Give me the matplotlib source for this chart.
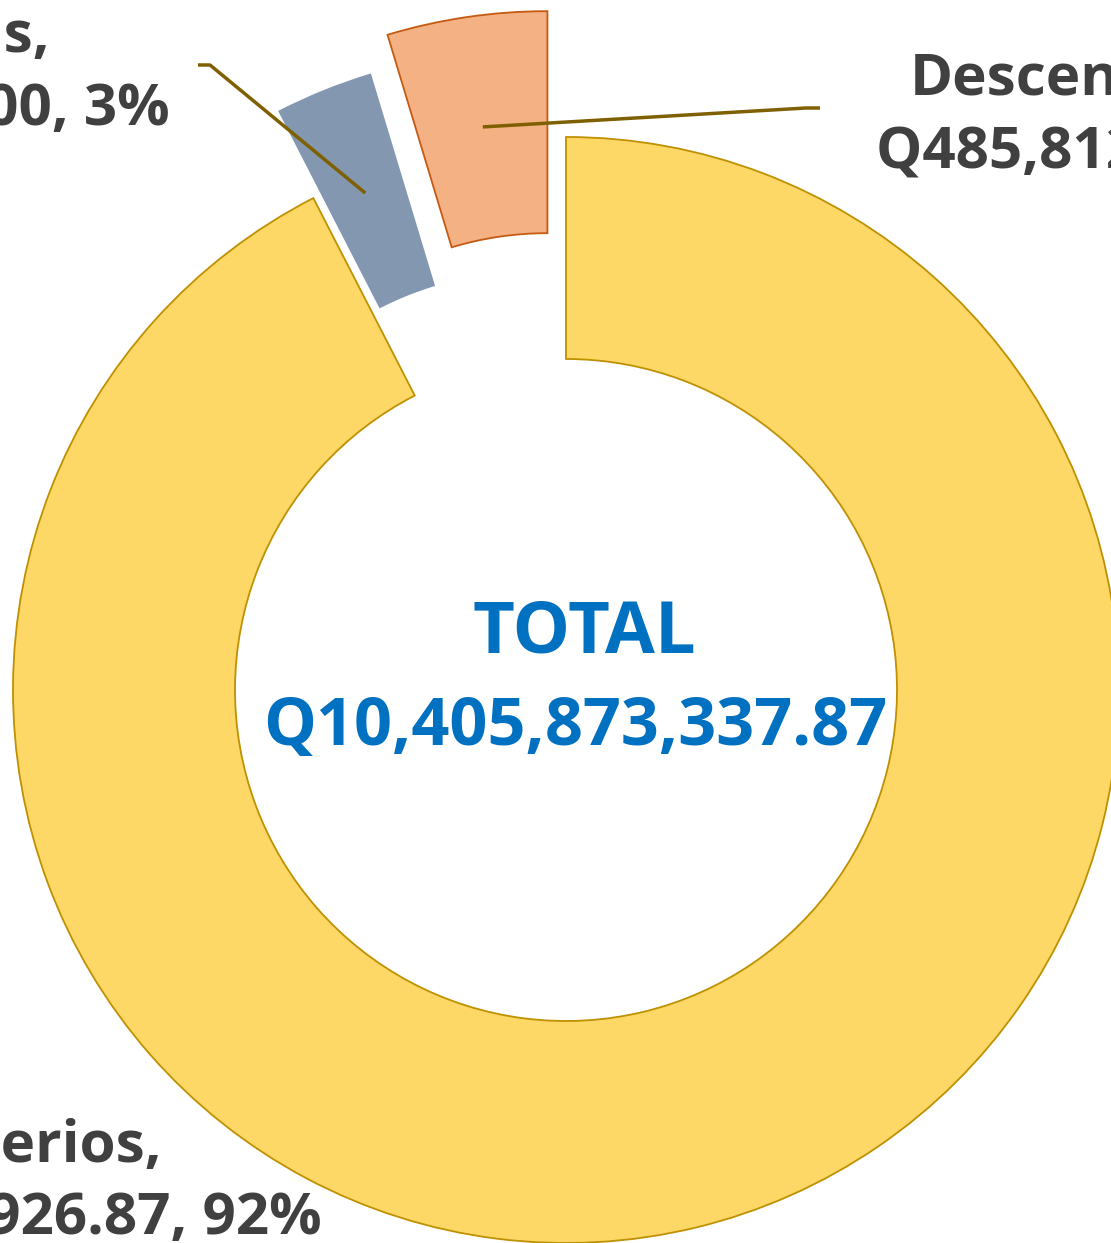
import numpy as np
import matplotlib
matplotlib.use("Agg")
import matplotlib.pyplot as plt

# data (values in quetzales)
labels = ["Ministerios", "Secretarías", "Descentralizadas"]
values = [9620060926.87, 300000000.00, 485812411.00]
total_label = "Q10,405,873,337.87"

colors = ["#fdd866", "#8497b0", "#f4b183"]
edge_colors = ["#bf9000", "#8497b0", "#c55a11"]
explode = [0.0, 0.17, 0.23]   # fraction of outer radius

plt.rcParams['font.family'] = ['Open Sans', 'DejaVu Sans']

W, H = 1111, 1243
fig = plt.figure(figsize=(W / 100, H / 100), dpi=100)
ax = fig.add_axes([0, 0, 1, 1])

cx, cy = 566, H - 690
R = 553
ring = 222

wedges, _ = ax.pie(values, colors=colors, startangle=90, counterclock=False,
                   explode=[e * R for e in explode], center=(cx, cy), radius=R,
                   wedgeprops=dict(width=ring, linewidth=1.3))
for w, ec in zip(wedges, edge_colors):
    w.set_edgecolor(ec)
wedges[1].set_linewidth(0)

ax.set_xlim(0, W)
ax.set_ylim(0, H)
ax.set_aspect('equal')
ax.axis('off')


def mid_point(w):
    th = np.deg2rad((w.theta1 + w.theta2) / 2)
    r = w.r - w.width / 2
    return w.center[0] + r * np.cos(th), w.center[1] + r * np.sin(th)


def fmt(v):
    pct = 100 * v / sum(values)
    return f"Q{v:,.2f}, {pct:.0f}%"


line_color = "#7f6000"
text_color = "#404040"

# leader lines
x0, y0 = mid_point(wedges[2])
ax.plot([x0, 806, 820], [y0, H - 108, H - 108], color=line_color, lw=2.5,
        solid_capstyle='butt')
x0, y0 = mid_point(wedges[1])
ax.plot([x0, 210, 198], [y0, H - 65, H - 65], color=line_color, lw=2.5,
        solid_capstyle='butt')

# data labels (y = baseline of the last line)
lab_kw = dict(va='baseline', multialignment='center', fontsize=42,
              fontweight='bold', color=text_color, linespacing=1.35)
ax.text(876, H - 168, f"{labels[2]},\n{fmt(values[2])}", ha='left', **lab_kw)
ax.text(170, H - 125, f"{labels[1]},\n{fmt(values[1])}", ha='right', **lab_kw)
ax.text(322, H - 1235, f"{labels[0]},\n{fmt(values[0])}", ha='right', **lab_kw)

# centre text
ax.text(584, H - 652, "TOTAL", ha='center', va='baseline', fontsize=52,
        fontweight='bold', color="#0070c0")
ax.text(575, H - 745, total_label, ha='center', va='baseline', fontsize=48,
        fontweight='bold', color="#0070c0")

fig.savefig("out.png", dpi=100)
